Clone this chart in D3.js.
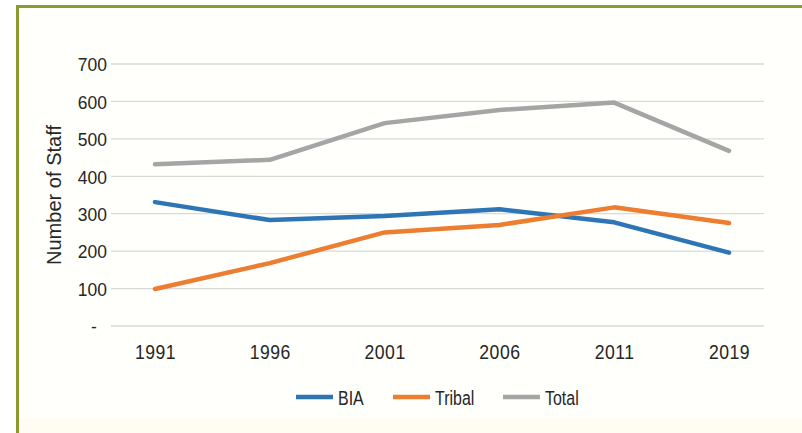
<!DOCTYPE html>
<html lang="en">
<head>
    <meta charset="UTF-8">
    <title>Number of Staff</title>
    <script src="https://d3js.org/d3.v7.min.js"></script>
    <style>
        body { margin: 0; padding: 0; background: #fff; }
        svg { display: block; }
        text { font-family: "Liberation Sans", Arial, sans-serif; fill: #262626; }
        .grid line { stroke: #d9d9d9; stroke-width: 1.3px; }
        .series { fill: none; stroke-width: 4.5px; stroke-linejoin: round; stroke-linecap: round; }
    </style>
</head>
<body>
    <svg></svg>

    <script>
        // data
        const years = ["1991", "1996", "2001", "2006", "2011", "2019"];
        const bia = [331, 283, 294, 312, 277, 196];
        const tribal = [99, 168, 250, 270, 317, 275];
        const total = [432, 444, 542, 577, 597, 468];
        const yTicks = [0, 100, 200, 300, 400, 500, 600, 700];
        const seriesNames = ["BIA", "Tribal", "Total"];
        const seriesColors = ["#2e75b6", "#ed7d31", "#a5a5a5"];

        const width = 802, height = 433;
        // no Arial Narrow here, so squeeze Liberation Sans
        const squeeze = k => `scale(${k},1)`;
        const svg = d3.select("svg").attr("width", width).attr("height", height);

        // cream panel with olive frame on top and left
        svg.append("rect").attr("x", 17).attr("y", 6).attr("width", width - 17).attr("height", height - 6).attr("fill", "#fffffb");
        svg.append("rect").attr("x", 17).attr("y", 418).attr("width", width - 17).attr("height", 15).attr("fill", "#fffdf3");
        svg.append("line").attr("x1", 17.5).attr("x2", 17.5).attr("y1", 5).attr("y2", height).attr("stroke", "#8b9a2c").attr("stroke-width", 3);
        svg.append("line").attr("x1", 16).attr("x2", width).attr("y1", 6.5).attr("y2", 6.5).attr("stroke", "#8b9a2c").attr("stroke-width", 3);

        const x = d3.scalePoint().domain(years).range([155, 729]);
        const y = d3.scaleLinear().domain([0, 700]).range([326, 64]);

        // gridlines
        svg.append("g").attr("class", "grid")
            .selectAll("line")
            .data(yTicks)
            .enter().append("line")
            .attr("x1", 111).attr("x2", 764)
            .attr("y1", d => y(d)).attr("y2", d => y(d));

        // y axis labels
        const yAxis = svg.append("g")
            .attr("transform", "translate(107,0)")
            .call(d3.axisLeft(y).tickValues(yTicks).tickSize(0).tickPadding(0)
                .tickFormat(d => d === 0 ? "-" : d));
        yAxis.select(".domain").remove();
        yAxis.selectAll("text").style("font-size", "19px").attr("dy", "0.36em")
            .attr("x", d => d === 0 ? -11 : 0)
            .attr("transform", squeeze(0.92));

        // x axis labels
        const xAxis = svg.append("g")
            .attr("transform", "translate(0,338)")
            .call(d3.axisBottom(x).tickSize(0).tickPadding(6));
        xAxis.select(".domain").remove();
        xAxis.selectAll("text").style("font-size", "21px").style("letter-spacing", "0.6px")
            .attr("transform", squeeze(0.84));

        // axis title
        svg.append("text")
            .attr("transform", "translate(61,195) rotate(-90)")
            .attr("text-anchor", "middle")
            .attr("textLength", 140)
            .attr("lengthAdjust", "spacingAndGlyphs")
            .style("font-size", "20px")
            .text("Number of Staff");

        // lines
        const line = d3.line().x((d, i) => x(years[i])).y(d => y(d));
        [bia, tribal, total].forEach((vals, i) => {
            svg.append("path")
                .attr("class", "series")
                .attr("stroke", seriesColors[i])
                .attr("d", line(vals));
        });

        // legend
        const legendX = [296, 393, 503];
        const legend = svg.append("g").selectAll("g")
            .data(seriesNames)
            .enter().append("g")
            .attr("transform", (d, i) => `translate(${legendX[i]},397)`);
        legend.append("line")
            .attr("x1", 0).attr("x2", 37)
            .attr("stroke", (d, i) => seriesColors[i])
            .attr("stroke-width", 4.5);
        legend.append("text")
            .attr("transform", "translate(42,0) " + squeeze(0.76))
            .attr("dy", "0.36em")
            .style("font-size", "21px")
            .text(d => d);
    </script>
</body>
</html>
